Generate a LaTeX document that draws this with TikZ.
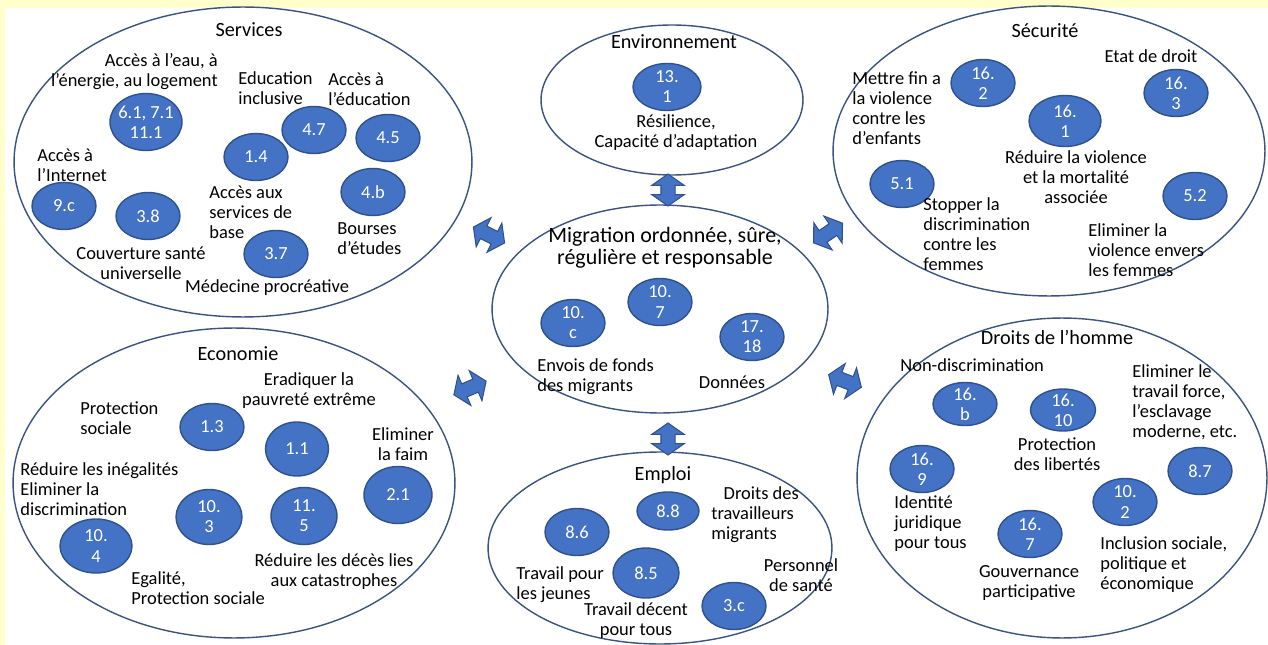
\documentclass[tikz,border=0pt]{standalone}
\usepackage{fontspec}
\setmainfont{Carlito}
\usepackage{tikz}
\usetikzlibrary{positioning, shapes.geometric, shapes.arrows}
\definecolor{bgYel}{HTML}{FFFFCC}
\definecolor{grpLine}{HTML}{3A5383}
\definecolor{bubFill}{HTML}{4472C4}
\definecolor{bubLine}{HTML}{2F528F}

\begin{document}
\begin{tikzpicture}[x=0.02cm, y=-0.02cm,
grp/.style={ellipse, draw=grpLine, line width=0.8pt, inner sep=0pt},
bub/.style={ellipse, fill=bubFill, draw=bubLine, line width=0.8pt, minimum width=1.28cm, minimum height=0.94cm, inner sep=0pt},
num/.style={text=white, align=center, inner sep=0pt, font=\fontsize{10.5}{11.4}\selectfont},
txt/.style={align=left, anchor=west, inner sep=0pt, font=\fontsize{10.5}{11.4}\selectfont},
ctxt/.style={align=center, inner sep=0pt, font=\fontsize{10.5}{11.4}\selectfont},
hd/.style={inner sep=0pt, font=\fontsize{11.5}{13}\selectfont},
dbl/.style={double arrow, fill=bubFill, draw=bubLine, line width=0.6pt, minimum height=0.64cm, inner sep=0pt, inner ysep=3.7pt, double arrow head extend=5.3pt, double arrow tip angle=110}]
\useasboundingbox (0,0) rectangle (1268,645);
\fill[bgYel] (0,0) rectangle (1268,645);
\fill[white] (5,8) rectangle (1268,645);

\node[grp, minimum width=9.16cm, minimum height=6.2cm] (srv) at (243,162) {};
\node[grp, minimum width=5.24cm, minimum height=3.0cm] (env) at (672,100) {};
\node[grp, minimum width=6.72cm, minimum height=4.16cm] (mig) at (660,309) {};
\node[grp, minimum width=8.64cm, minimum height=5.8cm] (sec) at (1049,151) {};
\node[grp, minimum width=8.84cm, minimum height=6.2cm] (eco) at (234,483) {};
\node[grp, minimum width=8.2cm, minimum height=6.4cm] (drt) at (1062,478) {};
\node[grp, minimum width=6.88cm, minimum height=3.84cm] (emp) at (660,548) {};

\node[dbl, rotate=90] (aEnv) at (668,190) {};
\node[dbl, rotate=90] (aEmp) at (668,439) {};
\node[dbl, minimum height=0.7cm, rotate=-27] (aSrv) at (489,235) {};
\node[dbl, minimum height=0.7cm, rotate=34] (aSec) at (828,233) {};
\node[dbl, minimum height=0.7cm, rotate=23] (aEco) at (470,388) {};
\node[dbl, minimum height=0.7cm, rotate=-21] (aDrt) at (845,381) {};

\node[hd] (tSrv) at (249,30) {Services};
\node[txt, align=right, anchor=east] (lEau) at (218,72) {Accès à l’eau, à\\l'énergie, au logement};
\node[txt] (lEdi) at (238,88) {Education\\inclusive};
\node[txt] (lEdu) at (328,89) {Accès à\\l’éducation};
\node[txt] (lNet) at (37,165) {Accès à\\l’Internet};
\node[txt] (lBas) at (209,212) {Accès aux\\services de\\base};
\node[txt] (lBou) at (337,239) {Bourses\\d’études};
\node[ctxt] (lCou) at (141,263) {Couverture santé\\universelle};
\node[ctxt] (lMed) at (267,288) {Médecine procréative};
\node[bub, minimum width=1.44cm, minimum height=1.14cm, label={[num]center:{6.1, 7.1\\11.1}}] (b61) at (146,122) {};
\node[bub, label={[num]center:1.4}] (b14) at (256,157) {};
\node[bub, label={[num]center:4.7}] (b47) at (314,130) {};
\node[bub, label={[num]center:4.5}] (b45) at (388,138) {};
\node[bub, label={[num]center:4.b}] (b4b) at (373,192) {};
\node[bub, label={[num]center:9.c}] (b9c) at (64,206) {};
\node[bub, label={[num]center:3.8}] (b38) at (148,216) {};
\node[bub, label={[num]center:3.7}] (b37) at (276,254) {};

\node[hd] (tEnv) at (674,42) {Environnement};
\node[bub, minimum width=1.36cm, label={[num]center:{13.\\1}}] (b131) at (667,87) {};
\node[ctxt] (lRes) at (676,133) {Résilience,\\Capacité d’adaptation};

\node[hd, align=center, font=\fontsize{12.5}{12.5}\selectfont] (tMig) at (665,248) {Migration ordonnée, sûre,\\régulière et responsable};
\node[bub, label={[num]center:{10.\\c}}] (b10c) at (573,323) {};
\node[bub, label={[num]center:{10.\\7}}] (b107) at (660,302) {};
\node[bub, label={[num]center:{17.\\18}}] (b1718) at (752,337) {};
\node[txt] (lEnv) at (537,377) {Envois de fonds\\des migrants};
\node[ctxt] (lDon) at (732,382) {Données};

\node[hd] (tSec) at (1045,31) {Sécurité};
\node[ctxt] (lEta) at (1151,56) {Etat de droit};
\node[txt] (lEnf) at (852,108) {Mettre fin a\\la violence\\contre les\\d’enfants};
\node[bub, label={[num]center:{16.\\2}}] (b162) at (983,83) {};
\node[bub, minimum width=1.44cm, minimum height=1.02cm, label={[num]center:{16.\\1}}] (b161) at (1065,121) {};
\node[bub, label={[num]center:{16.\\3}}] (b163) at (1176,93) {};
\node[ctxt] (lVio) at (1076,177) {Réduire la violence\\et la mortalité\\associée};
\node[bub, label={[num]center:5.1}] (b51) at (902,184) {};
\node[txt] (lSto) at (923,234) {Stopper la\\discrimination\\contre les\\femmes};
\node[bub, label={[num]center:5.2}] (b52) at (1195,196) {};
\node[txt] (lFem) at (1088,250) {Eliminer la\\violence envers\\les femmes};

\node[hd] (tEco) at (238,354) {Economie};
\node[ctxt] (lPau) at (309,391) {Eradiquer la\\pauvreté extrême};
\node[txt] (lPro) at (80,418) {Protection\\sociale};
\node[ctxt] (lFai) at (403,444) {Eliminer\\la faim};
\node[txt] (lIne) at (20,489) {Réduire les inégalités\\Eliminer la\\discrimination};
\node[ctxt] (lDec) at (334,572) {Réduire les décès lies\\aux catastrophes};
\node[txt] (lEga) at (131,588) {Egalité,\\Protection sociale};
\node[bub, label={[num]center:1.3}] (b13) at (212,427) {};
\node[bub, minimum width=1.26cm, minimum height=1.08cm, label={[num]center:1.1}] (b11) at (297,449) {};
\node[bub, minimum width=1.36cm, minimum height=1.14cm, label={[num]center:2.1}] (b21) at (398,495) {};
\node[bub, minimum width=1.32cm, minimum height=1.1cm, label={[num]center:{10.\\3}}] (b103) at (209,517) {};
\node[bub, minimum width=1.32cm, minimum height=1.14cm, label={[num]center:{11.\\5}}] (b115) at (304,516) {};
\node[bub, minimum width=1.44cm, minimum height=1.08cm, label={[num]center:{10.\\4}}] (b104) at (96,546) {};

\node[hd] (tDrt) at (1057,337) {Droits de l’homme};
\node[txt] (lNon) at (900,365) {Non-discrimination};
\node[txt] (lEsc) at (1132,402) {Eliminer le\\travail force,\\l’esclavage\\moderne, etc.};
\node[ctxt] (lLib) at (1057,454) {Protection\\des libertés};
\node[txt] (lIde) at (894,524) {Identité\\juridique\\pour tous};
\node[ctxt] (lGou) at (1029,583) {Gouvernance\\participative};
\node[txt] (lInc) at (1100,565) {Inclusion sociale,\\politique et\\économique};
\node[bub, minimum height=0.86cm, label={[num]center:{16.\\b}}] (b16b) at (965,404) {};
\node[bub, minimum width=1.3cm, minimum height=0.84cm, label={[num]center:{16.\\10}}] (b1610) at (1063,410) {};
\node[bub, label={[num]center:{16.\\9}}] (b169) at (922,469) {};
\node[bub, label={[num]center:8.7}] (b87) at (1200,471) {};
\node[bub, label={[num]center:{10.\\2}}] (b102) at (1125,502) {};
\node[bub, label={[num]center:{16.\\7}}] (b167) at (1030,534) {};

\node[hd] (tEmp) at (663,475) {Emploi};
\node[bub, minimum width=1.24cm, minimum height=0.76cm, label={[num]center:8.8}] (b88) at (668,511) {};
\node[txt] (lTra) at (711,515) {\hspace*{7pt}Droits des\\travailleurs\\migrants};
\node[bub, label={[num]center:8.6}] (b86) at (577,532) {};
\node[bub, minimum width=1.32cm, minimum height=1.0cm, label={[num]center:8.5}] (b85) at (646,573) {};
\node[bub, label={[num]center:3.c}] (b3c) at (734,606) {};
\node[txt] (lJeu) at (516,585) {Travail pour\\les jeunes};
\node[ctxt] (lSan) at (801,575) {Personnel\\de santé};
\node[ctxt] (lDcn) at (636,621) {Travail décent\\pour tous};
\end{tikzpicture}
\end{document}
